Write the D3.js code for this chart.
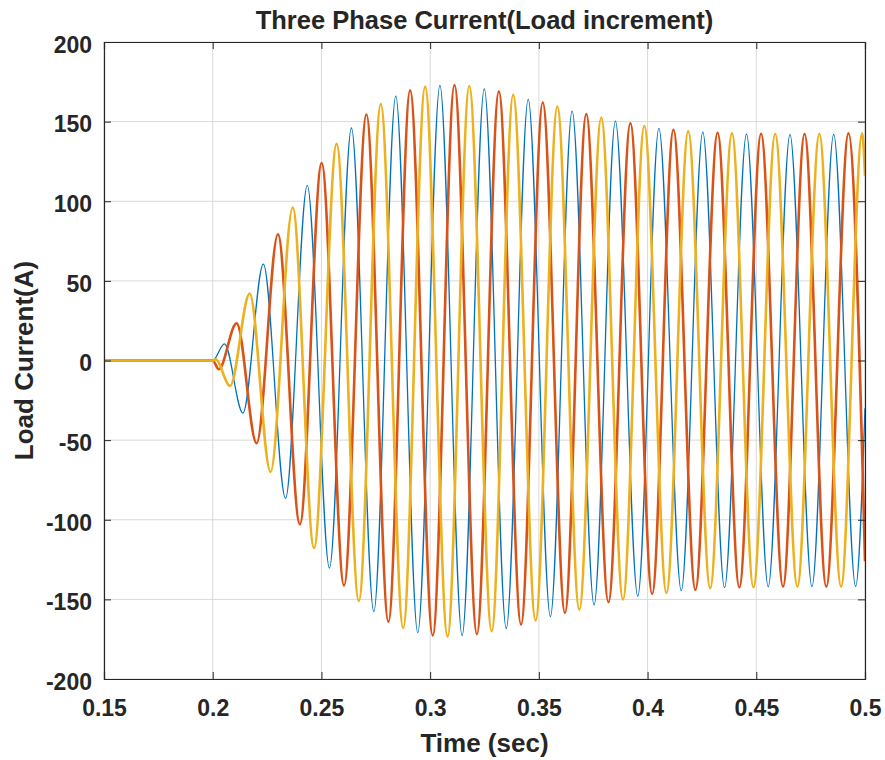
<!DOCTYPE html>
<html>
<head>
<meta charset="utf-8">
<script src="https://cdn.jsdelivr.net/npm/d3@7"></script>
<style>
  html, body { margin: 0; padding: 0; background: #ffffff; }
  svg { display: block; }
  text { font-family: "Liberation Sans", Arial, Helvetica, sans-serif; font-weight: bold; fill: #262626; }
</style>
</head>
<body>
<svg id="chart" width="885" height="760"></svg>
<script>
// ---------------- data ----------------
const titleText = "Three Phase Current(Load increment)";
const xLabelText = "Time (sec)";
const yLabelText = "Load Current(A)";

const xTicks = [0.15, 0.2, 0.25, 0.3, 0.35, 0.4, 0.45, 0.5];
const xTickLabels = ["0.15", "0.2", "0.25", "0.3", "0.35", "0.4", "0.45", "0.5"];
const yTicks = [-200, -150, -100, -50, 0, 50, 100, 150, 200];
const yTickLabels = ["-200", "-150", "-100", "-50", "0", "50", "100", "150", "200"];

// Phase A (blue): times of the zero start, every peak/trough, and the end
const phaseATime = [0.15, 0.2, 0.2054, 0.2139, 0.2233, 0.2335, 0.2435, 0.2537, 0.2638, 0.2741,
  0.2842, 0.2943, 0.3045, 0.3147, 0.3249, 0.3350, 0.3451, 0.3553, 0.3653, 0.3754,
  0.3852, 0.3955, 0.4052, 0.4155, 0.4254, 0.4354, 0.4455, 0.4555, 0.4655, 0.4756,
  0.4856, 0.4957, 0.5];
const phaseAValue = [0, 0, 10.4, -33, 60.5, -86.5, 110, -130.4, 146, -157.7,
  166, -170.9, 172.7, -172.7, 170.6, -168.3, 164, -160.8, 156.6, -153.5,
  150.3, -148, 145.7, -144.5, 143.4, -142.6, 142.2, -142, 141.8, -142,
  142, -141.8, -30];

// Phase B (orange)
const phaseBTime = [0.15, 0.2, 0.2028, 0.2110, 0.2202, 0.2300, 0.2401, 0.2501, 0.2604, 0.2707,
  0.2808, 0.2908, 0.3012, 0.3112, 0.3215, 0.3316, 0.3418, 0.3518, 0.3620, 0.3718,
  0.3820, 0.3921, 0.4021, 0.4119, 0.4220, 0.4322, 0.4422, 0.4522, 0.4623, 0.4722,
  0.4822, 0.4924, 0.5];
const phaseBValue = [0, 0, -5.5, 23.4, -52, 79.2, -102.8, 124, -141.3, 154.5,
  -164, 169.6, -172.7, 173, -171.7, 169, -165.8, 162, -158.5, 154.7,
  -151.8, 148.9, -146.6, 144.9, -144, 143, -142.4, 142.4, -142, 142.2,
  -142, 142.6, -126];

// Phase C (yellow)
const phaseCTime = [0.15, 0.2, 0.2013, 0.2080, 0.2170, 0.2266, 0.2368, 0.2466, 0.2570, 0.2672,
  0.2773, 0.2876, 0.2977, 0.3080, 0.3180, 0.3283, 0.3382, 0.3485, 0.3585, 0.3686,
  0.3787, 0.3887, 0.3985, 0.4087, 0.4187, 0.4288, 0.4388, 0.4487, 0.4587, 0.4689,
  0.4790, 0.4890, 0.4987, 0.5];
const phaseCValue = [0, 0, 0.8, -16, 42, -70, 96.1, -117.7, 136, -151,
  161, -168, 172, -173.4, 172.4, -170, 166.8, -163.3, 159.5, -156.4,
  152.4, -150.1, 147.2, -145.9, 144, -143, 142.6, -142.4, 142.2, -142,
  142.2, -142, 142.6, 116];

// ---------------- drawing ----------------
const svg = d3.select("#chart");
const margin = { left: 104, right: 20, top: 42, bottom: 81 };
const W = 885, H = 760;
const x0 = margin.left, x1 = W - margin.right, y0 = margin.top, y1 = H - margin.bottom;

const x = d3.scaleLinear().domain([0.15, 0.5]).range([x0, x1]);
const y = d3.scaleLinear().domain([-200, 200]).range([y1, y0]);

// grid
const grid = svg.append("g").attr("class", "grid");
grid.selectAll("line.gx").data(xTicks).join("line")
  .attr("x1", d => x(d)).attr("x2", d => x(d))
  .attr("y1", y0).attr("y2", y1)
  .attr("stroke", "#d9d9d9").attr("stroke-width", 1);
grid.selectAll("line.gy").data(yTicks).join("line")
  .attr("x1", x0).attr("x2", x1)
  .attr("y1", d => y(d)).attr("y2", d => y(d))
  .attr("stroke", "#d9d9d9").attr("stroke-width", 1);

// clip
svg.append("clipPath").attr("id", "plotClip")
  .append("rect").attr("x", x0).attr("y", y0).attr("width", x1 - x0).attr("height", y1 - y0);

const line = d3.line()
  .x(d => x(d[0]))
  .y(d => y(d[1]))
  .curve(d3.curveMonotoneX);

const series = [
  { t: phaseATime, v: phaseAValue, color: "#0072BD", width: 1.3 },
  { t: phaseBTime, v: phaseBValue, color: "#D95319", width: 2.6 },
  { t: phaseCTime, v: phaseCValue, color: "#EDB120", width: 2.6 }
];

const lines = svg.append("g").attr("clip-path", "url(#plotClip)");
series.forEach(s => {
  const pts = s.t.map((t, i) => [t, s.v[i]]);
  lines.append("path")
    .datum(pts)
    .attr("d", line)
    .attr("fill", "none")
    .attr("stroke", s.color)
    .attr("stroke-width", s.width)
    .attr("stroke-linejoin", "round");
});

// axes (MATLAB style box, inward ticks)
const axisColor = "#262626";
const fmtX = (d, i) => xTickLabels[i];
const fmtY = (d, i) => yTickLabels[i];

const gBottom = svg.append("g").attr("transform", `translate(0,${y1})`)
  .call(d3.axisBottom(x).tickValues(xTicks).tickFormat(fmtX).tickSize(-7).tickPadding(21));
const gTop = svg.append("g").attr("transform", `translate(0,${y0})`)
  .call(d3.axisTop(x).tickValues(xTicks).tickFormat("").tickSize(-7));
const gLeft = svg.append("g").attr("transform", `translate(${x0},0)`)
  .call(d3.axisLeft(y).tickValues(yTicks).tickFormat(fmtY).tickSize(-7).tickPadding(12));
const gRight = svg.append("g").attr("transform", `translate(${x1},0)`)
  .call(d3.axisRight(y).tickValues(yTicks).tickFormat("").tickSize(-7));

[gBottom, gTop, gLeft, gRight].forEach(g => {
  g.select(".domain").attr("stroke", axisColor).attr("stroke-width", 1.2);
  g.selectAll(".tick line").attr("stroke", axisColor).attr("stroke-width", 1);
  g.selectAll("text").attr("font-family", null).attr("font-size", null)
    .style("font-size", "23px").style("font-weight", "bold").attr("fill", axisColor);
});
gLeft.selectAll("text").attr("dy", "0.45em");
gBottom.selectAll("text").attr("dy", "0.71em");

// title & labels
svg.append("text")
  .attr("x", (x0 + x1) / 2).attr("y", 29)
  .attr("text-anchor", "middle")
  .style("font-size", "25.5px")
  .text(titleText);

svg.append("text")
  .attr("x", (x0 + x1) / 2).attr("y", 752)
  .attr("text-anchor", "middle")
  .style("font-size", "26px")
  .text(xLabelText);

svg.append("text")
  .attr("transform", `translate(33,${(y0 + y1) / 2}) rotate(-90)`)
  .attr("text-anchor", "middle")
  .style("font-size", "26px")
  .text(yLabelText);
</script>
</body>
</html>
